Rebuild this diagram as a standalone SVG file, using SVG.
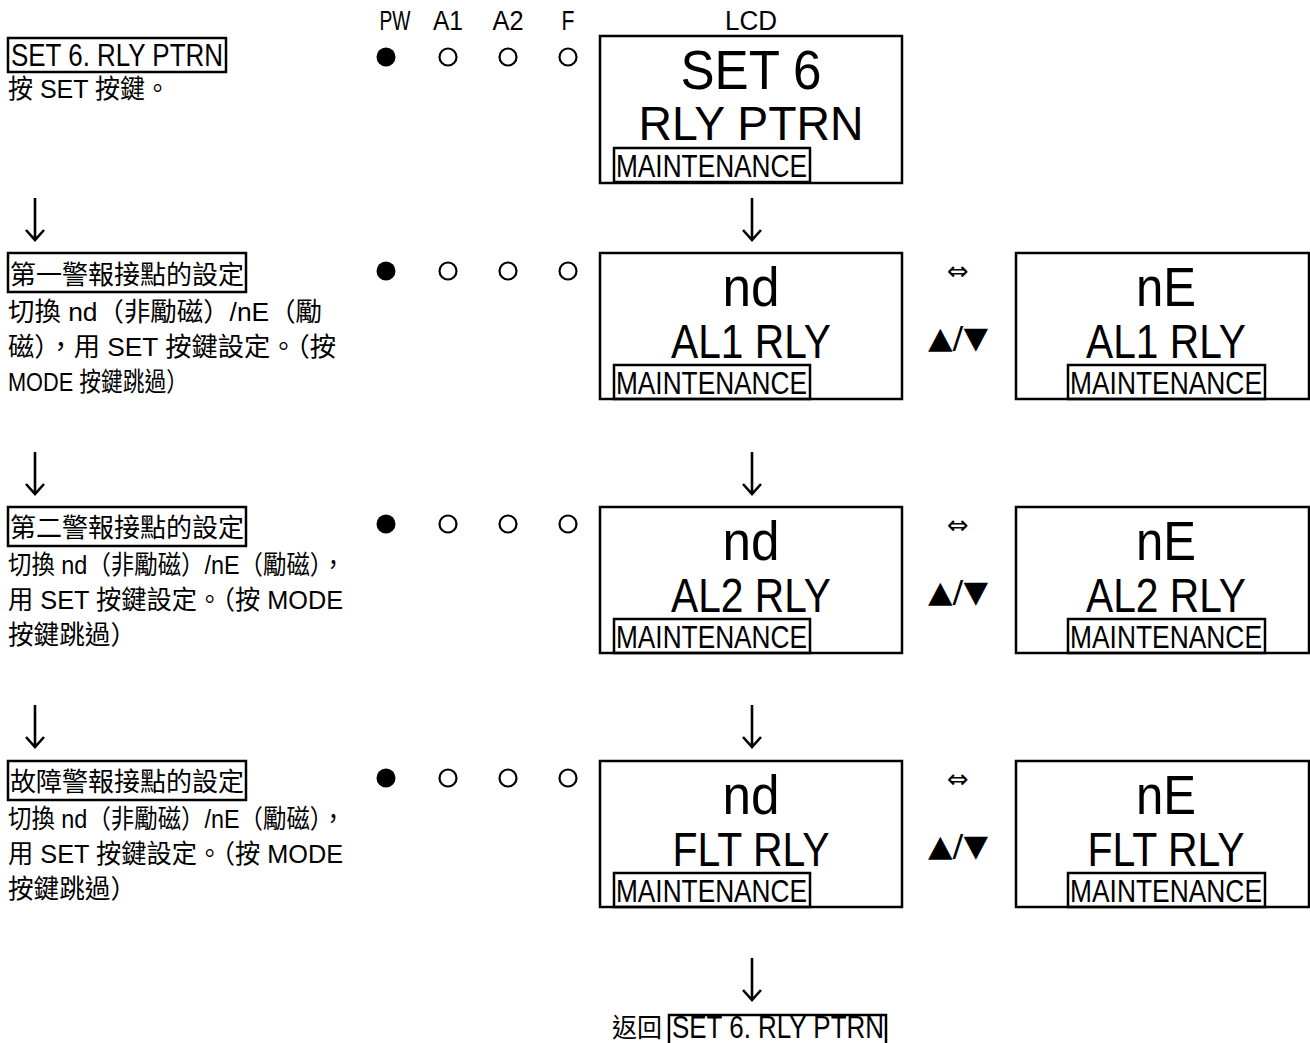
<svg xmlns="http://www.w3.org/2000/svg" width="1310" height="1043" viewBox="0 0 1310 1043">
<style>
text{font-family:"Liberation Sans","Noto Sans CJK TC",sans-serif;fill:#000}
.hd{font-size:27px;text-anchor:middle}
.lbl{font-size:31px}
.cj{font-size:26px}
.big{font-size:56px;text-anchor:middle}
.mid{font-size:49px;text-anchor:middle}
.mt{font-size:32px}
.arr{font-family:"DejaVu Sans",sans-serif;font-size:26px;text-anchor:middle}
.tri{font-family:"DejaVu Sans",sans-serif;font-size:30px;text-anchor:middle}
.box{fill:none;stroke:#000;stroke-width:2.5}
.lcd{fill:#fff;stroke:#000;stroke-width:2.5}
.on{fill:#000}
.off{fill:none;stroke:#000;stroke-width:2.2}
.conn path{fill:none;stroke:#000;stroke-width:2.6}
</style>
<defs>
<g id="leds">
<circle class="on" cx="386" cy="0" r="9.5"/>
<circle class="off" cx="448" cy="0" r="8.5"/>
<circle class="off" cx="508" cy="0" r="8.5"/>
<circle class="off" cx="568" cy="0" r="8.5"/>
</g>
</defs>

<g id="header">
<text class="hd" x="395" y="30" textLength="31" lengthAdjust="spacingAndGlyphs">PW</text>
<text class="hd" x="448" y="30" textLength="30" lengthAdjust="spacingAndGlyphs">A1</text>
<text class="hd" x="508" y="30" textLength="31" lengthAdjust="spacingAndGlyphs">A2</text>
<text class="hd" x="568" y="30" textLength="13" lengthAdjust="spacingAndGlyphs">F</text>
<text class="hd" x="751" y="30" textLength="52" lengthAdjust="spacingAndGlyphs">LCD</text>
</g>

<g id="step1">
<rect class="box" x="8" y="38" width="218" height="34"/>
<text class="lbl" x="11" y="66" textLength="212" lengthAdjust="spacingAndGlyphs">SET 6. RLY PTRN</text>
<text class="cj" x="8" y="98" textLength="162" lengthAdjust="spacingAndGlyphs">按 SET 按鍵。</text>
<use href="#leds" y="57"/>
<rect class="lcd" x="600" y="36" width="302" height="147"/>
<text class="big" x="751" y="89" textLength="141" lengthAdjust="spacingAndGlyphs">SET 6</text>
<text class="mid" x="751" y="140" textLength="225" lengthAdjust="spacingAndGlyphs">RLY PTRN</text>
<rect class="box" x="614" y="148" width="196" height="34"/>
<text class="mt" x="616" y="177" textLength="191" lengthAdjust="spacingAndGlyphs">MAINTENANCE</text>
</g>

<g id="step2">
<rect class="box" x="8" y="253" width="238" height="39"/>
<text class="cj" x="10" y="284" textLength="234" lengthAdjust="spacingAndGlyphs">第一警報接點的設定</text>
<text class="cj" x="8" y="321" textLength="314" lengthAdjust="spacingAndGlyphs">切換 nd（非勵磁）/nE（勵</text>
<text class="cj" x="8" y="356" textLength="328" lengthAdjust="spacingAndGlyphs">磁），用 SET 按鍵設定。（按</text>
<text class="cj" x="8" y="391" textLength="180" lengthAdjust="spacingAndGlyphs">MODE 按鍵跳過）</text>
<use href="#leds" y="271"/>
</g>
<g id="lcd2a">
<rect class="lcd" x="600" y="253" width="302" height="146"/>
<text class="big" x="751" y="306" textLength="57" lengthAdjust="spacingAndGlyphs">nd</text>
<text class="mid" x="751" y="358" textLength="160" lengthAdjust="spacingAndGlyphs">AL1 RLY</text>
<rect class="box" x="614" y="365" width="196" height="34"/>
<text class="mt" x="616" y="394" textLength="191" lengthAdjust="spacingAndGlyphs">MAINTENANCE</text>
</g>
<g id="toggle2">
<text class="arr" x="958" y="280">⇔</text>
<text class="tri" x="958" y="348" textLength="60" lengthAdjust="spacingAndGlyphs">▲/▼</text>
</g>
<g id="lcd2b">
<rect class="lcd" x="1016" y="253" width="293" height="146"/>
<text class="big" x="1166" y="306" textLength="60" lengthAdjust="spacingAndGlyphs">nE</text>
<text class="mid" x="1166" y="358" textLength="160" lengthAdjust="spacingAndGlyphs">AL1 RLY</text>
<rect class="box" x="1068" y="365" width="197" height="34"/>
<text class="mt" x="1070" y="394" textLength="192" lengthAdjust="spacingAndGlyphs">MAINTENANCE</text>
</g>

<g id="step3">
<rect class="box" x="8" y="507" width="238" height="39"/>
<text class="cj" x="10" y="537" textLength="234" lengthAdjust="spacingAndGlyphs">第二警報接點的設定</text>
<text class="cj" x="8" y="574" textLength="337" lengthAdjust="spacingAndGlyphs">切換 nd（非勵磁）/nE（勵磁），</text>
<text class="cj" x="8" y="609" textLength="335" lengthAdjust="spacingAndGlyphs">用 SET 按鍵設定。（按 MODE</text>
<text class="cj" x="8" y="644" textLength="128" lengthAdjust="spacingAndGlyphs">按鍵跳過）</text>
<use href="#leds" y="524"/>
</g>
<g id="lcd3a">
<rect class="lcd" x="600" y="507" width="302" height="146"/>
<text class="big" x="751" y="560" textLength="57" lengthAdjust="spacingAndGlyphs">nd</text>
<text class="mid" x="751" y="612" textLength="160" lengthAdjust="spacingAndGlyphs">AL2 RLY</text>
<rect class="box" x="614" y="619" width="196" height="34"/>
<text class="mt" x="616" y="648" textLength="191" lengthAdjust="spacingAndGlyphs">MAINTENANCE</text>
</g>
<g id="toggle3">
<text class="arr" x="958" y="534">⇔</text>
<text class="tri" x="958" y="602" textLength="60" lengthAdjust="spacingAndGlyphs">▲/▼</text>
</g>
<g id="lcd3b">
<rect class="lcd" x="1016" y="507" width="293" height="146"/>
<text class="big" x="1166" y="560" textLength="60" lengthAdjust="spacingAndGlyphs">nE</text>
<text class="mid" x="1166" y="612" textLength="160" lengthAdjust="spacingAndGlyphs">AL2 RLY</text>
<rect class="box" x="1068" y="619" width="197" height="34"/>
<text class="mt" x="1070" y="648" textLength="192" lengthAdjust="spacingAndGlyphs">MAINTENANCE</text>
</g>

<g id="step4">
<rect class="box" x="8" y="761" width="238" height="39"/>
<text class="cj" x="10" y="791" textLength="234" lengthAdjust="spacingAndGlyphs">故障警報接點的設定</text>
<text class="cj" x="8" y="828" textLength="337" lengthAdjust="spacingAndGlyphs">切換 nd（非勵磁）/nE（勵磁），</text>
<text class="cj" x="8" y="863" textLength="335" lengthAdjust="spacingAndGlyphs">用 SET 按鍵設定。（按 MODE</text>
<text class="cj" x="8" y="898" textLength="128" lengthAdjust="spacingAndGlyphs">按鍵跳過）</text>
<use href="#leds" y="778"/>
</g>
<g id="lcd4a">
<rect class="lcd" x="600" y="761" width="302" height="146"/>
<text class="big" x="751" y="814" textLength="57" lengthAdjust="spacingAndGlyphs">nd</text>
<text class="mid" x="751" y="866" textLength="157" lengthAdjust="spacingAndGlyphs">FLT RLY</text>
<rect class="box" x="614" y="873" width="196" height="34"/>
<text class="mt" x="616" y="902" textLength="191" lengthAdjust="spacingAndGlyphs">MAINTENANCE</text>
</g>
<g id="toggle4">
<text class="arr" x="958" y="788">⇔</text>
<text class="tri" x="958" y="856" textLength="60" lengthAdjust="spacingAndGlyphs">▲/▼</text>
</g>
<g id="lcd4b">
<rect class="lcd" x="1016" y="761" width="293" height="146"/>
<text class="big" x="1166" y="814" textLength="60" lengthAdjust="spacingAndGlyphs">nE</text>
<text class="mid" x="1166" y="866" textLength="157" lengthAdjust="spacingAndGlyphs">FLT RLY</text>
<rect class="box" x="1068" y="873" width="197" height="34"/>
<text class="mt" x="1070" y="902" textLength="192" lengthAdjust="spacingAndGlyphs">MAINTENANCE</text>
</g>

<g id="return">
<text class="cj" x="612" y="1037" textLength="50" lengthAdjust="spacingAndGlyphs">返回</text>
<rect class="box" x="669" y="1015" width="217" height="30"/>
<text class="lbl" x="672" y="1038" font-size="29" textLength="212" lengthAdjust="spacingAndGlyphs">SET 6. RLY PTRN</text>
</g>

<g id="connectors" class="conn">
<path d="M35,198 V240 M26,230 L35,240 L44,230"/>
<path d="M35,452 V494 M26,484 L35,494 L44,484"/>
<path d="M35,705 V747 M26,737 L35,747 L44,737"/>
<path d="M752,198 V240 M743,230 L752,240 L761,230"/>
<path d="M752,452 V494 M743,484 L752,494 L761,484"/>
<path d="M752,705 V747 M743,737 L752,747 L761,737"/>
<path d="M752,958 V1000 M743,990 L752,1000 L761,990"/>
</g>
</svg>
